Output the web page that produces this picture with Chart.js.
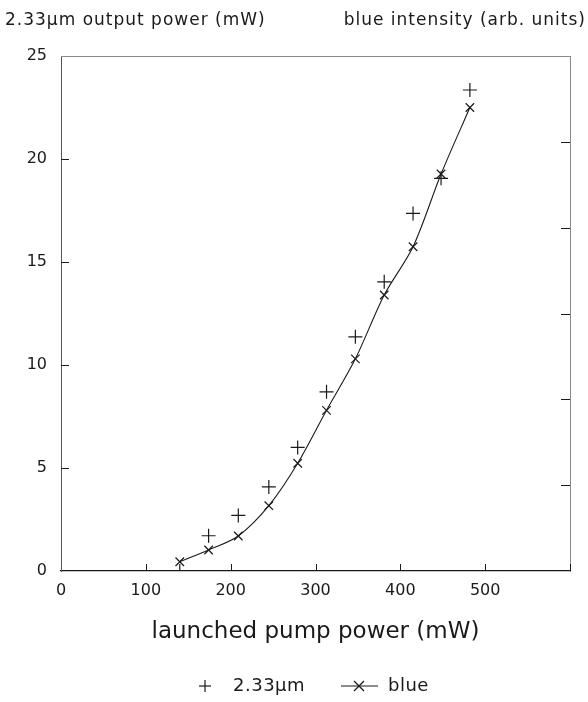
<!DOCTYPE html>
<html>
<head>
<meta charset="utf-8">
<script src="https://cdn.jsdelivr.net/npm/chart.js@4.4.1/dist/chart.umd.min.js"></script>
<style>
    html, body { margin: 0; padding: 0; background: #fff; }
</style>
</head>
<body>
<canvas id="pumpChart" width="588" height="702"></canvas>
<script>
// launched pump power (mW)
const pumpPower = [140, 174, 209, 245, 279, 313, 347, 381, 415, 448, 482];
// 2.33um output power (mW)
const output233 = [0, 1.71, 2.7, 4.08, 6.0, 8.7, 11.37, 14.04, 17.36, 19.06, 23.35];
// blue intensity, drawn on the left scale
const blueIntensity = [0.45, 1.02, 1.7, 3.17, 5.23, 7.8, 10.3, 13.4, 15.74, 19.27, 22.5];

const xTickLabels = [0, 100, 200, 300, 400, 500];
const yTickLabels = [0, 5, 10, 15, 20, 25];

const FONT = '"DejaVu Sans", "Liberation Sans", sans-serif';
const INK = '#1a1a1a';

const extras = {
    id: 'extras',
    afterDraw(chart) {
        const { ctx, chartArea: a, scales: { x, y, y1 } } = chart;
        const seg = (x0, y0, x1, y1_) => {
            ctx.beginPath(); ctx.moveTo(x0, y0); ctx.lineTo(x1, y1_); ctx.stroke();
        };
        ctx.save();

        // top border (grey, like the scan)
        ctx.strokeStyle = '#8a8a8a';
        ctx.lineWidth = 1;
        seg(a.left, a.top + 0.5, a.right, a.top + 0.5);

        // inward ticks
        ctx.strokeStyle = INK;
        y.ticks.forEach(t => {
            if (t.value > 0 && t.value < 25) {
                const py = Math.round(y.getPixelForValue(t.value)) + 0.5;
                seg(a.left, py, a.left + 8, py);
            }
        });
        x.ticks.forEach(t => {
            if (t.value > 0) {
                const px = Math.round(x.getPixelForValue(t.value)) + 0.5;
                seg(px, a.bottom, px, a.bottom - 7);
            }
        });
        y1.ticks.forEach(t => {
            if (t.value > 0 && t.value < 6) {
                const py = Math.round(y1.getPixelForValue(t.value)) + 0.5;
                seg(a.right, py, a.right - 9, py);
            }
        });

        // axis captions on top
        ctx.fillStyle = INK;
        ctx.font = '17px ' + FONT;
        ctx.letterSpacing = '1px';
        ctx.textBaseline = 'middle';
        ctx.textAlign = 'left';
        ctx.fillText('2.33μm output power (mW)', 5, 21);
        ctx.textAlign = 'right';
        ctx.fillText('blue intensity (arb. units)', 586, 21);

        // legend
        const ly = 686;
        ctx.font = '18px ' + FONT;
        ctx.letterSpacing = '0.5px';
        ctx.lineWidth = 1.2;
        seg(199, ly, 211, ly);
        seg(205, ly - 6, 205, ly + 6);
        ctx.textAlign = 'left';
        ctx.fillText('2.33μm', 233, ly);
        seg(341, ly, 378, ly);
        seg(354, ly - 5, 364, ly + 5);
        seg(354, ly + 5, 364, ly - 5);
        ctx.fillText('blue', 388, ly);

        ctx.restore();
    }
};

const data = {
    datasets: [
        {
            label: '2.33μm',
            data: pumpPower.map((p, i) => ({ x: p, y: output233[i] })),
            showLine: false,
            pointStyle: 'cross',
            pointRadius: 7,
            borderColor: INK,
            backgroundColor: INK,
            pointBorderWidth: 1.2,
        },
        {
            label: 'blue',
            data: pumpPower.map((p, i) => ({ x: p, y: blueIntensity[i] })),
            showLine: true,
            tension: 0.3,
            pointStyle: 'crossRot',
            pointRadius: 6,
            borderColor: INK,
            backgroundColor: INK,
            borderWidth: 1.1,
            pointBorderWidth: 1.2,
        }
    ]
};

const config = {
    type: 'scatter',
    data: data,
    options: {
        responsive: false,
        animation: false,
        devicePixelRatio: 1,
        layout: { padding: { top: 56, left: 0, right: 2, bottom: 51 } },
        plugins: {
            legend: { display: false },
            tooltip: { enabled: false }
        },
        scales: {
            x: {
                type: 'linear',
                min: 0,
                max: 600,
                afterFit: (s) => { s.height = 80; },
                ticks: {
                    stepSize: 100,
                    padding: 10,
                    color: INK,
                    font: { family: FONT, size: 16 },
                    callback: (val) => xTickLabels.includes(val) ? String(val) : ''
                },
                grid: { drawOnChartArea: false, drawTicks: false },
                border: { color: INK, width: 1.2 },
                title: {
                    display: true,
                    text: 'launched pump power (mW)',
                    color: INK,
                    font: { family: FONT, size: 23 },
                    padding: { top: 0, bottom: 5 }
                }
            },
            y: {
                position: 'left',
                min: 0,
                max: 25,
                afterFit: (s) => { s.width = 61; },
                ticks: {
                    stepSize: 5,
                    padding: 14,
                    color: INK,
                    font: { family: FONT, size: 16 },
                    callback: (val) => yTickLabels.includes(val) ? String(val) : ''
                },
                grid: { drawOnChartArea: false, drawTicks: false },
                border: { color: '#555', width: 1 }
            },
            y1: {
                position: 'right',
                min: 0,
                max: 6,
                afterFit: (s) => { s.width = 16; },
                ticks: { stepSize: 1, display: false },
                grid: { drawOnChartArea: false, drawTicks: false },
                border: { color: '#8a8a8a', width: 1 }
            }
        }
    },
    plugins: [extras]
};

window.pumpChart = new Chart(document.getElementById('pumpChart'), config);
</script>
</body>
</html>
